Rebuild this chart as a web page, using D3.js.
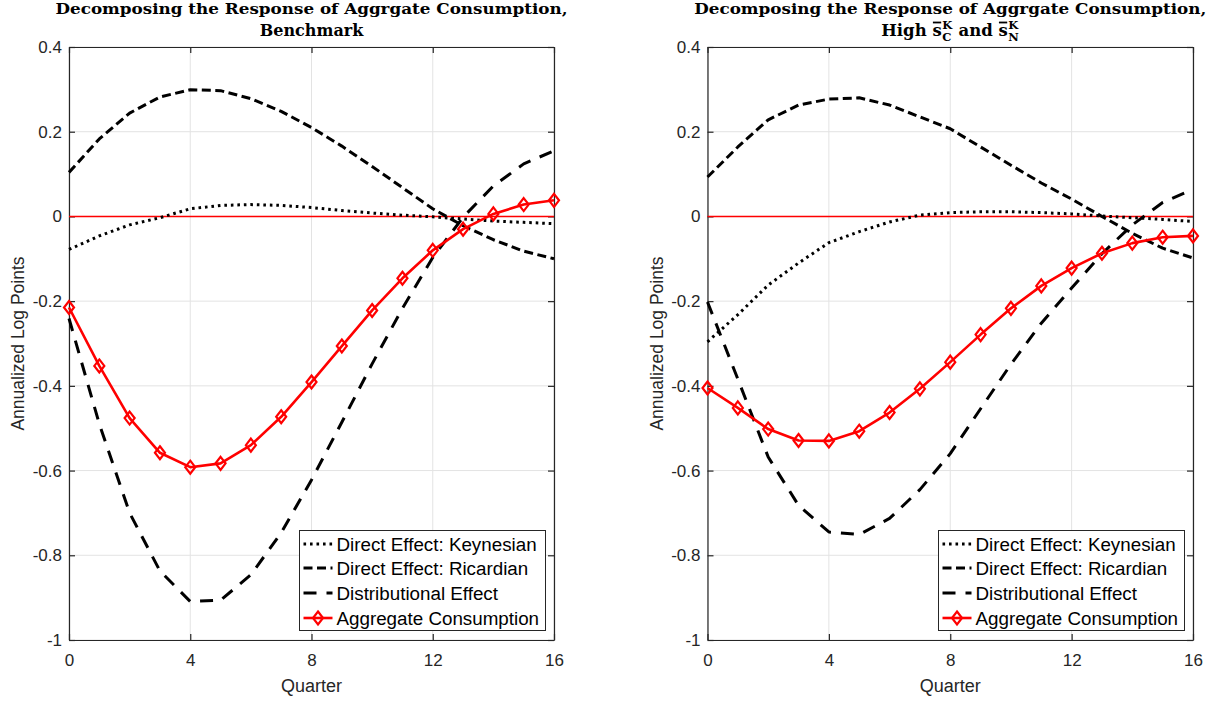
<!DOCTYPE html>
<html><head><meta charset="utf-8">
<script src="https://cdn.jsdelivr.net/npm/d3@7"></script>
<style>
body{margin:0;background:#fff}
svg text{font-family:"Liberation Sans",Arial,Helvetica,sans-serif}
svg text.serif{font-family:"DejaVu Serif",serif;font-weight:bold;white-space:pre}
</style>
</head><body>
<svg id="chart" width="1226" height="702"></svg>
<script>
// ---------------- data ----------------
const quarters = [0,1,2,3,4,5,6,7,8,9,10,11,12,13,14,15,16];
const xTickValues = [0,4,8,12,16];
const xTickLabels = ["0","4","8","12","16"];
const yTickValues = [0.4,0.2,0,-0.2,-0.4,-0.6,-0.8,-1];
const yTickLabels = ["0.4","0.2","0","-0.2","-0.4","-0.6","-0.8","-1"];
const seriesNames = ["Direct Effect: Keynesian","Direct Effect: Ricardian","Distributional Effect","Aggregate Consumption"];
const xAxisLabel = "Quarter";
const yAxisLabel = "Annualized Log Points";
const titleLine1 = "Decomposing the Response of Aggrgate Consumption,";
const benchTitle2 = "Benchmark";

const benchKeynesian = [-0.078,-0.046,-0.020,-0.003,0.018,0.026,0.028,0.026,0.021,0.014,0.008,0.003,-0.001,-0.006,-0.011,-0.014,-0.017];
const benchRicardian = [0.104,0.183,0.244,0.282,0.299,0.297,0.278,0.248,0.210,0.166,0.118,0.068,0.018,-0.022,-0.055,-0.082,-0.100];
const benchDistributional = [-0.241,-0.490,-0.700,-0.837,-0.909,-0.906,-0.846,-0.747,-0.622,-0.486,-0.348,-0.217,-0.097,-0.002,0.072,0.124,0.155];
const benchAggregate = [-0.215,-0.353,-0.476,-0.558,-0.592,-0.583,-0.540,-0.473,-0.391,-0.306,-0.222,-0.146,-0.080,-0.030,0.006,0.028,0.038];

const highKeynesian = [-0.296,-0.232,-0.162,-0.110,-0.062,-0.036,-0.013,0.003,0.009,0.011,0.011,0.009,0.006,0.001,-0.003,-0.007,-0.012];
const highRicardian = [0.093,0.164,0.228,0.263,0.277,0.280,0.263,0.235,0.207,0.164,0.121,0.079,0.041,0.000,-0.040,-0.075,-0.098];
const highDistributional = [-0.202,-0.384,-0.568,-0.682,-0.745,-0.751,-0.713,-0.645,-0.560,-0.454,-0.349,-0.252,-0.169,-0.088,-0.020,0.033,0.064];
const highAggregate = [-0.405,-0.452,-0.502,-0.529,-0.530,-0.507,-0.463,-0.407,-0.344,-0.279,-0.217,-0.164,-0.122,-0.087,-0.063,-0.049,-0.046];

// ---------------- styles ----------------
const styles = [
  {color:"#000", width:3, dash:"2.6,3.9", marker:false},
  {color:"#000", width:3, dash:"9,4.5", marker:false},
  {color:"#000", width:3, dash:"13,10", marker:false},
  {color:"#ff0000", width:2.6, dash:null, marker:true}
];
const axisColor = "#262626";
const gridColor = "#e3e3e3";
const svg = d3.select("#chart");
const TOP = 47, BOTTOM = 640;

function diamond(sel, cx, cy){
  sel.append("path")
    .attr("d", `M${cx},${cy-6.5}L${cx+5},${cy}L${cx},${cy+6.5}L${cx-5},${cy}Z`)
    .attr("fill","none").attr("stroke","#ff0000").attr("stroke-width",2.2);
}

function drawPanel(cfg){
  const g = svg.append("g");
  const x = d3.scaleLinear().domain([0,16]).range([cfg.left, cfg.right]);
  const y = d3.scaleLinear().domain([-1,0.4]).range([BOTTOM, TOP]);

  // grid
  g.append("g").selectAll("line").data(xTickValues).join("line")
    .attr("x1",d=>x(d)).attr("x2",d=>x(d)).attr("y1",TOP).attr("y2",BOTTOM)
    .attr("stroke",gridColor).attr("stroke-width",1);
  g.append("g").selectAll("line").data(yTickValues).join("line")
    .attr("y1",d=>y(d)).attr("y2",d=>y(d)).attr("x1",cfg.left).attr("x2",cfg.right)
    .attr("stroke",gridColor).attr("stroke-width",1);

  // axes
  const fmtX = d => xTickLabels[xTickValues.indexOf(d)];
  const fmtY = d => yTickLabels[yTickValues.indexOf(d)];
  const ax = [
    g.append("g").attr("transform",`translate(0,${BOTTOM})`)
      .call(d3.axisBottom(x).tickValues(xTickValues).tickFormat(fmtX).tickSizeInner(-6).tickSizeOuter(0).tickPadding(14)),
    g.append("g").attr("transform",`translate(0,${TOP})`)
      .call(d3.axisTop(x).tickValues(xTickValues).tickFormat("").tickSizeInner(-6).tickSizeOuter(0)),
    g.append("g").attr("transform",`translate(${cfg.left},0)`)
      .call(d3.axisLeft(y).tickValues(yTickValues).tickFormat(fmtY).tickSizeInner(-6).tickSizeOuter(0).tickPadding(7)),
    g.append("g").attr("transform",`translate(${cfg.right},0)`)
      .call(d3.axisRight(y).tickValues(yTickValues).tickFormat("").tickSizeInner(-6).tickSizeOuter(0))
  ];
  ax.forEach(a=>{
    a.select(".domain").attr("stroke",axisColor).attr("stroke-width",1.2);
    a.selectAll(".tick line").attr("stroke",axisColor).attr("stroke-width",1.2);
    a.selectAll(".tick text").attr("fill",axisColor).attr("font-size",17);
  });

  // zero line
  g.append("line").attr("x1",x(0)).attr("x2",x(16)).attr("y1",y(0)).attr("y2",y(0))
    .attr("stroke","#ff0000").attr("stroke-width",1.5);

  // series
  const line = d3.line().x((d,i)=>x(quarters[i])).y(d=>y(d));
  cfg.series.forEach((vals,k)=>{
    const s = styles[k];
    g.append("path").attr("d",line(vals)).attr("fill","none")
      .attr("stroke",s.color).attr("stroke-width",s.width)
      .attr("stroke-dasharray",s.dash).attr("stroke-linejoin","round");
    if(s.marker){
      vals.forEach((v,i)=>diamond(g, x(quarters[i]), y(v)));
    }
  });

  // axis labels
  g.append("text").attr("x",(cfg.left+cfg.right)/2).attr("y",692)
    .attr("text-anchor","middle").attr("font-size",18).attr("fill",axisColor).text(xAxisLabel);
  g.append("text").attr("transform",`translate(${cfg.left-45},${(TOP+BOTTOM)/2}) rotate(-90)`)
    .attr("text-anchor","middle").attr("font-size",17.5).attr("fill",axisColor).text(yAxisLabel);

  // legend
  const L = cfg.legend;
  const lg = g.append("g");
  lg.append("rect").attr("x",L.x).attr("y",L.y).attr("width",L.w).attr("height",L.h)
    .attr("fill","#fff").attr("stroke",axisColor).attr("stroke-width",1);
  const rowY = [544,568,593,618];
  seriesNames.forEach((name,k)=>{
    const s = styles[k];
    const yy = rowY[k];
    lg.append("line").attr("x1",L.x+4).attr("x2",L.x+33).attr("y1",yy).attr("y2",yy)
      .attr("stroke",s.color).attr("stroke-width",s.width).attr("stroke-dasharray",s.dash);
    if(s.marker) diamond(lg, L.x+18.5, yy);
    lg.append("text").attr("x",L.x+37).attr("y",yy+6.5).attr("font-size",18.8)
      .attr("fill","#000").text(name);
  });

  // title line 1
  const cx = (cfg.left+cfg.right)/2;
  g.append("text").attr("class","serif").attr("x",cx).attr("y",14).attr("text-anchor","middle")
    .attr("font-size",15)
    .attr("textLength",512).attr("lengthAdjust","spacingAndGlyphs").attr("fill","#000").text(titleLine1);
  cfg.title2(g, cx, 36);
}

function plainTitle2(g, cx, y){
  g.append("text").attr("class","serif").attr("x",cx).attr("y",y).attr("text-anchor","middle")
    .attr("font-size",16).attr("fill","#000").text(benchTitle2);
}

function richTitle2(g, cx, y){
  const parts = [{t:"High\u00a0"},{t:"s",bar:true},{sup:"K",sub:"C"},{t:"\u00a0and\u00a0"},{t:"s",bar:true},{sup:"K",sub:"N"}];
  const tg = g.append("g");
  const mk = (txt,size)=> tg.append("text").attr("class","serif")
      .attr("font-size",size).attr("fill","#000").text(txt);
  let xpos = 0;
  parts.forEach(p=>{
    if(p.t!==undefined){
      const t = mk(p.t,16.5).attr("x",xpos).attr("y",y);
      const w = t.node().getComputedTextLength();
      if(p.bar){
        tg.append("line").attr("x1",xpos+0.5).attr("x2",xpos+w-0.5).attr("y1",y-13.5).attr("y2",y-13.5)
          .attr("stroke","#000").attr("stroke-width",1.8);
      }
      xpos += w;
    } else {
      const a = mk(p.sup,11.5).attr("x",xpos+0.5).attr("y",y-7);
      const b = mk(p.sub,11.5).attr("x",xpos+0.5).attr("y",y+5);
      xpos += Math.max(a.node().getComputedTextLength(), b.node().getComputedTextLength())+1;
    }
  });
  tg.attr("transform",`translate(${cx-xpos/2},0)`);
}

drawPanel({left:69, right:554,
  series:[benchKeynesian,benchRicardian,benchDistributional,benchAggregate],
  legend:{x:299.5,y:530.5,w:246,h:100}, title2:plainTitle2});
drawPanel({left:707.5, right:1193,
  series:[highKeynesian,highRicardian,highDistributional,highAggregate],
  legend:{x:938.5,y:530.5,w:246,h:100}, title2:richTitle2});
</script>
</body></html>
